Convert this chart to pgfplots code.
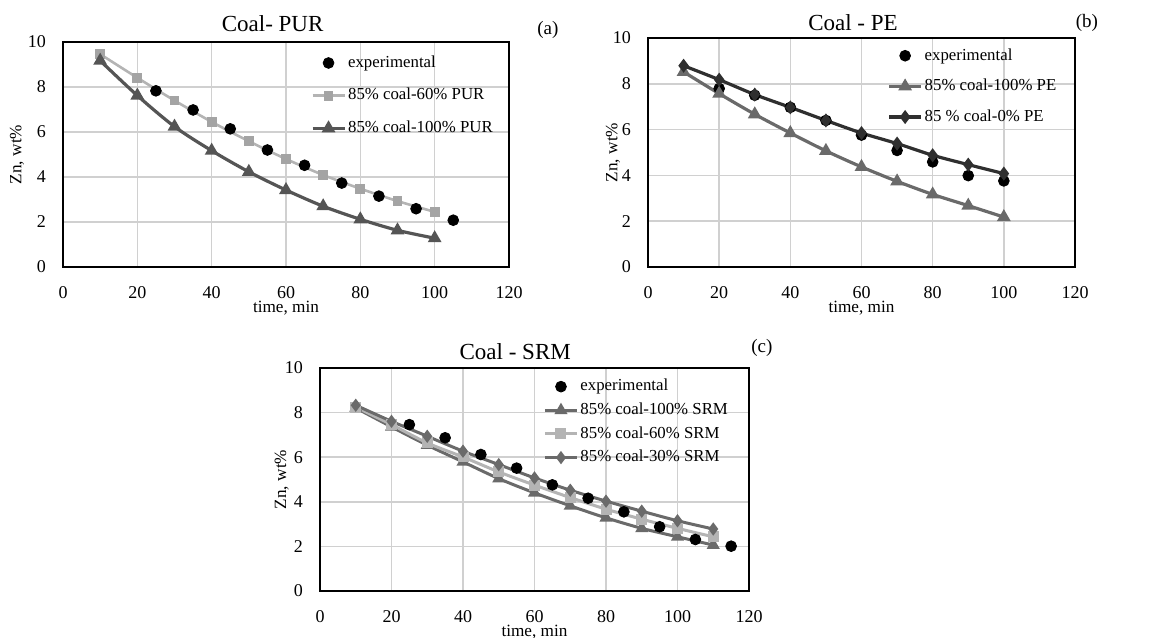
\documentclass[border=0pt]{standalone}
\usepackage{fontspec}
\setmainfont{Liberation Serif}
\usepackage{pgfplots}
\pgfplotsset{compat=1.18}

\definecolor{lgray}{HTML}{B4B4B4}
\definecolor{lgraymk}{HTML}{A4A4A4}
\definecolor{mgray}{HTML}{6A6A6A}
\definecolor{dgray}{HTML}{555555}
\definecolor{vdgray}{HTML}{2F2F2F}
\definecolor{gridc}{HTML}{D0D0D0}

\pgfplotsset{
  panel/.style={
    scale only axis,
    anchor=south west,
    xmin=0, xmax=120, ymin=0, ymax=10,
    xtick={0,20,...,120}, ytick={0,2,...,10},
    grid=major,
    major grid style={draw=gridc, line width=0.8pt},
    major tick length=0pt,
    axis line style={black, line width=0.8pt},
    tick label style={font=\fontsize{9}{10}\selectfont},
    /pgf/number format/assume math mode=true,
    label style={font=\fontsize{8.6}{10}\selectfont},
    xlabel={time, min},
    ylabel={Zn, wt\%},
    xlabel style={at={(axis description cs:0.5,0)}, anchor=center, yshift=-20.5pt},
    title style={font=\fontsize{11.5}{13}\selectfont, anchor=center},
    legend style={draw=none, fill=none, font=\fontsize{8.4}{10}\selectfont,
      anchor=north west, inner sep=0pt, nodes={inner sep=1pt}},
    legend cell align=left,
    legend image code/.code={\draw[mark repeat=2,mark phase=2,#1] plot coordinates {(0pt,0pt) (8pt,0pt) (16pt,0pt)};},
    xticklabel style={yshift=-6pt},
    yticklabel style={xshift=-5pt},
    clip=false,
  },
  expt/.style={only marks, mark=*, mark size=2.7pt, color=black},
}

\begin{document}
\begin{tikzpicture}
\path[use as bounding box] (0,0) rectangle (583pt,318.5pt);

% (a) Coal - PUR
\begin{axis}[panel,
  at={(31.5pt,185pt)}, width=223pt, height=112.5pt,
  title={Coal- PUR},
  title style={at={(axis description cs:0.47,1)}, yshift=3pt},
  ylabel style={at={(axis description cs:-0.103,0.5)}, anchor=center},
  legend style={at={(axis description cs:0.555,0.95)}, row sep=7pt},
]
\addplot[expt] coordinates {
  (25,7.83) (35,6.98) (45,6.14) (55,5.20) (65,4.52)
  (75,3.73) (85,3.15) (95,2.59) (105,2.08)
};
\addlegendentry{experimental}
\addplot[lgray, line width=1.3pt, smooth, mark=square*, mark size=1.8pt,
  mark options={fill=lgraymk, draw=lgraymk}] coordinates {
  (10,9.46) (20,8.41) (30,7.40) (40,6.45) (50,5.59)
  (60,4.80) (70,4.09) (80,3.48) (90,2.93) (100,2.45)
};
\addlegendentry{85\% coal-60\% PUR}
\addplot[dgray, line width=1.6pt, smooth, mark=triangle*, mark size=2.4pt] coordinates {
  (10,9.17) (20,7.62) (30,6.24) (40,5.17) (50,4.23)
  (60,3.42) (70,2.70) (80,2.12) (90,1.63) (100,1.28)
};
\addlegendentry{85\% coal-100\% PUR}
\node[font=\fontsize{9.5}{11}\selectfont] at (rel axis cs:1.087,1.053) {(a)};
\end{axis}

% (b) Coal - PE
\begin{axis}[panel,
  at={(324pt,185pt)}, width=213.5pt, height=114.5pt,
  title={Coal - PE},
  title style={at={(axis description cs:0.48,1)}, yshift=1.5pt},
  ylabel style={at={(axis description cs:-0.082,0.5)}, anchor=center},
  legend style={at={(axis description cs:0.56,0.965)}, row sep=6pt},
]
\addplot[expt] coordinates {
  (20,7.79) (30,7.50) (40,6.97) (50,6.40) (60,5.76)
  (70,5.09) (80,4.59) (90,3.99) (100,3.76)
};
\addlegendentry{experimental}
\addplot[mgray, line width=1.6pt, smooth, mark=triangle*, mark size=2.4pt] coordinates {
  (10,8.52) (20,7.57) (30,6.67) (40,5.85) (50,5.07)
  (60,4.37) (70,3.74) (80,3.17) (90,2.68) (100,2.18)
};
\addlegendentry{85\% coal-100\% PE}
\addplot[vdgray, line width=1.6pt, smooth, mark=diamond*, mark size=2.2pt] coordinates {
  (10,8.79) (20,8.18) (30,7.53) (40,6.97) (50,6.40)
  (60,5.85) (70,5.39) (80,4.88) (90,4.47) (100,4.08)
};
\addlegendentry{85 \% coal-0\% PE}
\node[font=\fontsize{9.5}{11}\selectfont] at (rel axis cs:1.028,1.066) {(b)};
\end{axis}

% (c) Coal - SRM
\begin{axis}[panel,
  at={(160pt,23pt)}, width=214.5pt, height=111.5pt,
  title={Coal - SRM},
  title style={at={(axis description cs:0.455,1)}, yshift=2pt},
  ylabel style={at={(axis description cs:-0.089,0.5)}, anchor=center},
  legend style={at={(axis description cs:0.52,0.96)}, row sep=2.5pt},
]
\addplot[expt] coordinates {
  (25,7.46) (35,6.87) (45,6.12) (55,5.51) (65,4.76)
  (75,4.16) (85,3.55) (95,2.88) (105,2.31) (115,2.01)
};
\addlegendentry{experimental}
\addplot[mgray, line width=1.5pt, smooth, mark=triangle*, mark size=2.3pt] coordinates {
  (10,8.21) (20,7.36) (30,6.54) (40,5.79) (50,5.04) (60,4.40)
  (70,3.82) (80,3.28) (90,2.81) (100,2.43) (110,2.06)
};
\addlegendentry{85\% coal-100\% SRM}
\addplot[lgray, line width=1.5pt, smooth, mark=square*, mark size=2pt] coordinates {
  (10,8.25) (20,7.46) (30,6.64) (40,6.01) (50,5.34) (60,4.75)
  (70,4.19) (80,3.67) (90,3.22) (100,2.81) (110,2.43)
};
\addlegendentry{85\% coal-60\% SRM}
\addplot[mgray, line width=1.5pt, smooth, mark=diamond*, mark size=2.1pt] coordinates {
  (10,8.33) (20,7.61) (30,6.94) (40,6.27) (50,5.67) (60,5.07)
  (70,4.52) (80,4.03) (90,3.58) (100,3.15) (110,2.78)
};
\addlegendentry{85\% coal-30\% SRM}
\node[font=\fontsize{9.5}{11}\selectfont] at (rel axis cs:1.03,1.09) {(c)};
\end{axis}
\end{tikzpicture}
\end{document}
